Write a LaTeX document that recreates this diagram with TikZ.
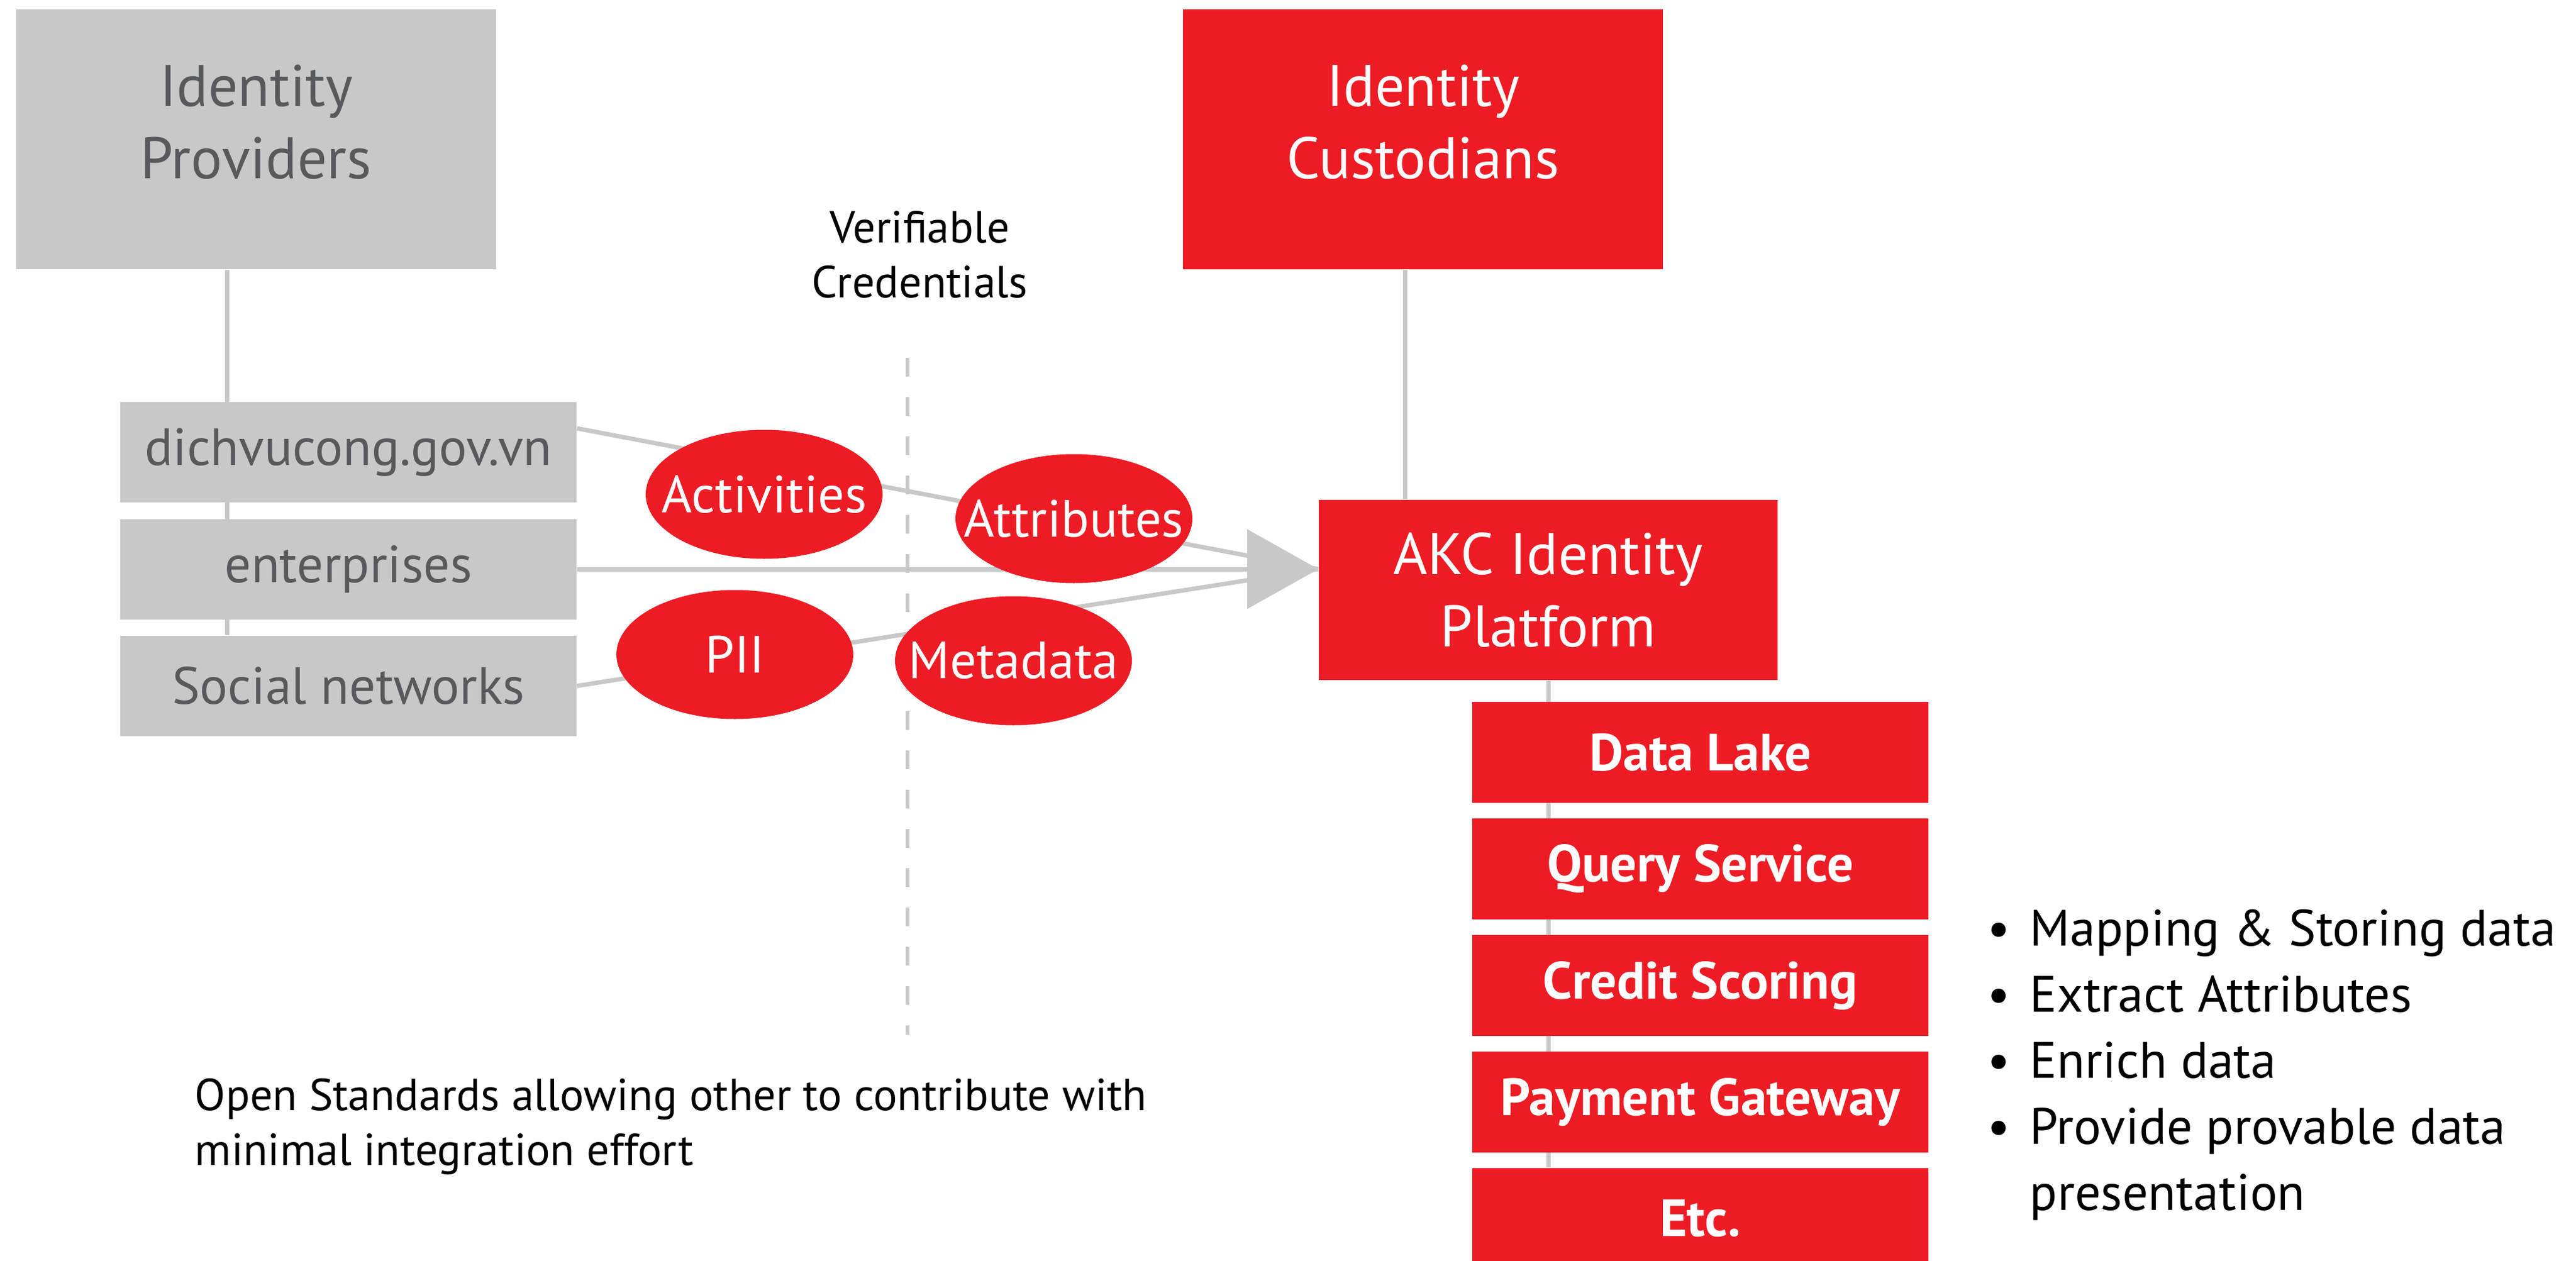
\documentclass[tikz,border=0pt]{standalone}
\usepackage{fontspec}
\setmainfont{PT Sans}
\usetikzlibrary{shapes.geometric,arrows.meta}

\definecolor{akcred}{HTML}{ED1C24}
\definecolor{boxgray}{HTML}{C8C8C8}
\definecolor{textgray}{HTML}{58595B}

\pgfdeclarelayer{bg}
\pgfsetlayers{bg,main}

\tikzset{
  bigbox/.style={minimum width=192.5pt, minimum height=104.25pt, inner sep=0pt},
  bigfont/.style={font=\fontsize{23.5}{29}\selectfont, align=center, inner sep=0pt},
  graybox/.style={fill=boxgray, text=textgray, minimum width=183pt, minimum height=40.25pt,
    inner sep=0pt, font=\fontsize{21}{26}\selectfont},
  redbox/.style={fill=akcred, text=white, minimum width=183pt, minimum height=40.5pt,
    inner sep=0pt, font=\fontsize{21}{25}\selectfont\bfseries},
  tag/.style={ellipse, fill=akcred, text=white, minimum width=95pt, minimum height=51.75pt,
    inner xsep=-14pt, inner ysep=0pt, font=\fontsize{21}{26}\selectfont},
  conn/.style={draw=boxgray, line width=1.75pt},
  note/.style={font=\fontsize{18}{22}\selectfont, inner sep=0pt},
}

\begin{document}
\begin{tikzpicture}[x=1pt,y=-1pt]
  \useasboundingbox (0,0) rectangle (1033.25,505.75);

  % top row
  \node[bigbox, fill=boxgray] (idp) at (102.75,55.9) {};
  \node[bigfont, text=textgray] (idptxt) at (102.75,49) {Identity\\Providers};
  \node[bigbox, fill=akcred] (idc) at (570.75,55.9) {};
  \node[bigfont, text=white] (idctxt) at (570.75,49) {Identity\\Custodians};

  % sources
  \node[graybox] (dich) at (139.75,181.4) {dichvucong.gov.vn};
  \node[graybox] (ent) at (139.75,228.25) {enterprises};
  \node[graybox] (soc) at (139.75,275.1) {Social networks};

  % platform and services
  \node[bigbox, bigfont, fill=akcred, text=white, minimum width=184pt, minimum height=72.25pt]
    (akc) at (621,236.6) {AKC Identity\\Platform};
  \node[redbox] (lake) at (682,301.75) {Data Lake};
  \node[redbox] (query) at (682,348.5) {Query Service};
  \node[redbox] (credit) at (682,395.25) {Credit Scoring};
  \node[redbox] (pay) at (682,442) {Payment Gateway};
  \node[redbox] (etc) at (682,488.75) {Etc.};

  % credentials
  \node[tag] (act) at (306.5,198.25) {Activities};
  \node[tag] (attr) at (430.75,208) {Attributes};
  \node[tag] (pii) at (294.75,262.5) {PII};
  \node[tag] (meta) at (406.5,265) {Metadata};

  \node[note, align=center] (vc) at (369,102) {Verifiable\\Credentials};
  \node[note, align=left, anchor=west] (open) at (78,451.75)
    {Open Standards allowing other to contribute with\\minimal integration effort};
  \node[font=\fontsize{20.5}{26.5}\selectfont, align=left, anchor=west, inner sep=0pt] (jobs) at (797,427.2)
    {\makebox[17pt][l]{\textbullet}Mapping \& Storing data\\
     \makebox[17pt][l]{\textbullet}Extract Attributes\\
     \makebox[17pt][l]{\textbullet}Enrich data\\
     \makebox[17pt][l]{\textbullet}Provide provable data\\
     \makebox[17pt][l]{}presentation};

  \coordinate (tip) at (akc.west |- ent.east);
  \coordinate (spine) at (91,0);

  \begin{pgfonlayer}{bg}
    \draw[conn] (spine |- idp.south) -- (spine |- soc.north);
    \draw[conn] ([xshift=-7.25pt]idc.south) -- ([xshift=-7.25pt]idc.south |- akc.north);
    \draw[conn] (akc.south) -- (akc.south |- etc.north);
    \draw[boxgray, line width=1.5pt, dash pattern=on 7.5pt off 8.25pt] (364,143.5) -- (364,415);
    \draw[conn] ([yshift=9.6pt]dich.east) -- (tip);
    \draw[conn] (soc.east) -- (tip);
    \draw[conn, -{Triangle[length=28.5pt,width=31.5pt]}] (ent.east) -- (tip);
  \end{pgfonlayer}
\end{tikzpicture}
\end{document}
